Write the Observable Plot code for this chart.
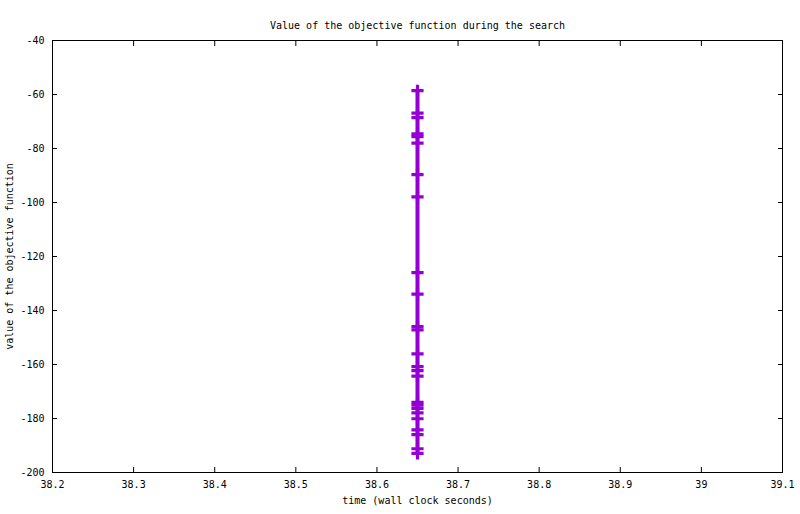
<!DOCTYPE html>
<html>
<head>
<meta charset="utf-8">
<script src="https://cdn.jsdelivr.net/npm/d3@7"></script>
<script src="https://cdn.jsdelivr.net/npm/@observablehq/plot@0.6"></script>
<style>
  html, body { margin: 0; padding: 0; background: #fff; }
  svg { font-family: "DejaVu Sans Mono", monospace; }
</style>
</head>
<body>
<div id="chart"></div>
<script>
// Data (time in wall clock seconds, objective value)
const times = [38.65, 38.65, 38.65, 38.65, 38.65, 38.65, 38.65, 38.65, 38.65, 38.65,
               38.65, 38.65, 38.65, 38.65, 38.65, 38.65, 38.65, 38.65, 38.65, 38.65,
               38.65, 38.65, 38.65, 38.65, 38.65];
const values = [-58.6, -66.9, -68.6, -74.6, -75.6, -78.0, -89.7, -97.9, -126.0, -133.9,
                -146.0, -147.2, -156.1, -160.8, -162.3, -164.3, -174.0, -175.1, -176.3,
                -177.9, -180.1, -184.2, -186.0, -191.2, -192.9];
const xTicks = [38.2, 38.3, 38.4, 38.5, 38.6, 38.7, 38.8, 38.9, 39, 39.1];
const yTicks = [-200, -180, -160, -140, -120, -100, -80, -60, -40];
const titleText = "Value of the objective function during the search";
const xLabel = "time (wall clock seconds)";
const yLabel = "value of the objective function";

const data = times.map((t, i) => ({t, v: values[i]}));
const color = "#9400d3";

const chart = Plot.plot({
  width: 800,
  height: 514,
  marginLeft: 52,
  marginRight: 18,
  marginTop: 40,
  marginBottom: 42,
  style: {fontFamily: "DejaVu Sans Mono, monospace", fontSize: "10px", color: "black", background: "white"},
  x: {domain: [38.2, 39.1]},
  y: {domain: [-200, -40]},
  marks: [
    Plot.frame({stroke: "black"}),
    // inward ticks on all four sides
    Plot.axisX({ticks: xTicks, anchor: "bottom", tickSize: -5, fill: "none", label: null}),
    Plot.axisX({ticks: xTicks, anchor: "top", tickSize: -5, fill: "none", label: null}),
    Plot.axisY({ticks: yTicks, anchor: "left", tickSize: -5, fill: "none", label: null}),
    Plot.axisY({ticks: yTicks, anchor: "right", tickSize: -5, fill: "none", label: null}),
    // tick labels
    Plot.axisX({ticks: xTicks, anchor: "bottom", tickSize: 0, tickPadding: 8, tickFormat: d => String(d), label: null, fontSize: 10}),
    Plot.axisY({ticks: yTicks, anchor: "left", tickSize: 0, tickPadding: 8, tickFormat: d => String(d), label: null, fontSize: 10}),
    // series
    Plot.line(data, {x: "t", y: "v", stroke: color, strokeWidth: 4}),
    Plot.dot(data, {x: "t", y: "v", symbol: "plus", r: 4, stroke: color, strokeWidth: 3.2}),
    // titles
    Plot.text([titleText], {text: d => d, frameAnchor: "top", dy: -19, fontSize: 10, fill: "black"}),
    Plot.text([xLabel], {text: d => d, frameAnchor: "bottom", dy: 31, fontSize: 10, fill: "black"}),
    Plot.text([yLabel], {text: d => d, frameAnchor: "left", textAnchor: "middle", dx: -43, rotate: -90, fontSize: 10, fill: "black"})
  ]
});
document.getElementById("chart").appendChild(chart);
</script>
</body>
</html>
